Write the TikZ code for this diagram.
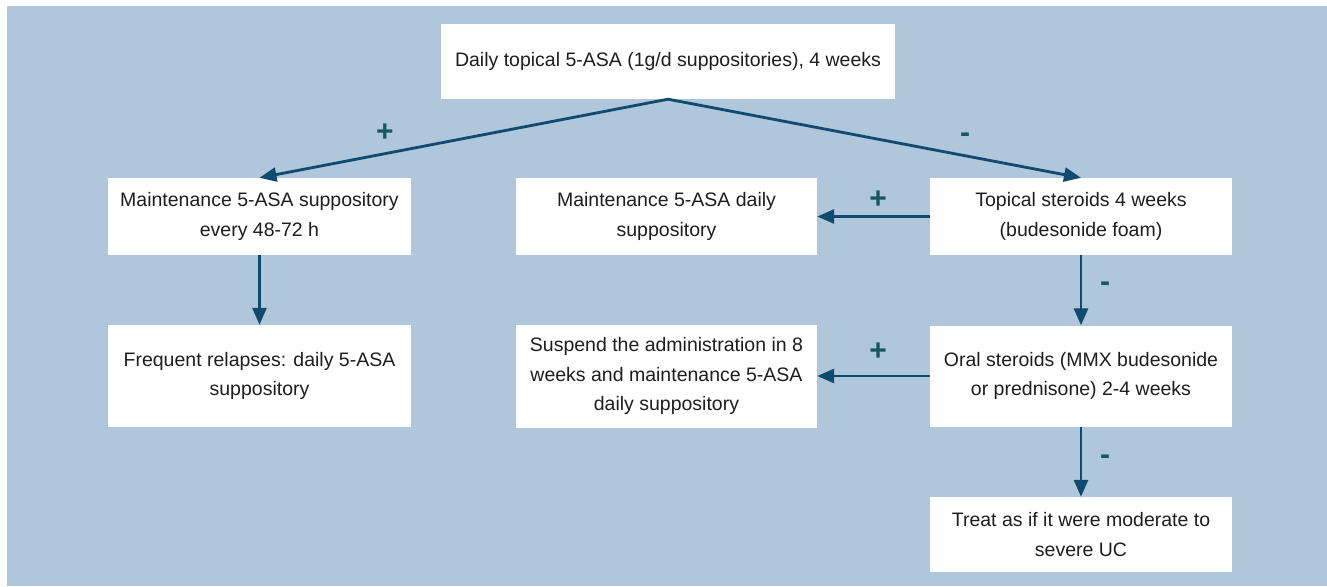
\documentclass[tikz,border=0pt]{standalone}
\usepackage{fontspec}
\setmainfont{Liberation Sans}
\usetikzlibrary{arrows.meta}
\definecolor{bgblue}{RGB}{176,198,218}
\definecolor{arrowblue}{RGB}{14,75,110}
\definecolor{labelteal}{RGB}{23,88,94}
\definecolor{txt}{RGB}{30,30,30}
\begin{document}
\begin{tikzpicture}[x=1pt,y=-1pt,
  box/.style={fill=white, draw=none, inner sep=0pt, align=center, text=txt,
    font=\fontsize{19.5}{29.5}\selectfont},
  conn/.style={draw=arrowblue, line width=2.8pt, -{Triangle[length=17pt,width=14pt]}},
  sign/.style={text=labelteal, font=\fontsize{30}{32}\selectfont\bfseries, inner sep=0pt}]
\useasboundingbox[fill=white] (0,0) rectangle (1327,586);
\fill[bgblue] (7,6) rectangle (1327,586);
\node[box, minimum width=454pt, minimum height=75pt] (top) at (668,61.5)
  {Daily topical 5-ASA (1g/d suppositories), 4 weeks};
\node[box, minimum width=303pt, minimum height=77pt] (l1) at (259.5,216.5)
  {Maintenance 5-ASA suppository\\every 48-72 h};
\node[box, minimum width=303pt, minimum height=102pt] (l2) at (259.5,376)
  {Frequent relapses: daily 5-ASA\\suppository};
\node[box, minimum width=301pt, minimum height=77pt] (m1) at (666.5,216.5)
  {Maintenance 5-ASA daily\\suppository};
\node[box, minimum width=301pt, minimum height=103pt] (m2) at (666.5,376)
  {Suspend the administration in 8\\weeks and maintenance 5-ASA\\daily suppository};
\node[box, minimum width=302pt, minimum height=77pt] (r1) at (1081,216.5)
  {Topical steroids 4 weeks\\(budesonide foam)};
\node[box, minimum width=302pt, minimum height=101pt] (r2) at (1081,376)
  {Oral steroids (MMX budesonide\\or prednisone) 2-4 weeks};
\node[box, minimum width=302pt, minimum height=75pt] (r3) at (1081,534.5)
  {Treat as if it were moderate to\\severe UC};
\draw[conn] (top.south) -- (l1.north);
\draw[conn] (top.south) -- (r1.north);
\draw[conn] (l1.south) -- (l2.north);
\draw[conn] (r1.west) -- (m1.east);
\draw[conn] (r1.south) -- (r2.north);
\draw[conn] (r2.west) -- (m2.east);
\draw[conn] (r2.south) -- (r3.north);
\node[sign] (s1) at (385,133) {+};
\node[sign] (s2) at (965,138) {-};
\node[sign] (s3) at (878,200) {+};
\node[sign] (s4) at (1105,287) {-};
\node[sign] (s5) at (878,352) {+};
\node[sign] (s6) at (1105,460) {-};
\end{tikzpicture}
\end{document}
